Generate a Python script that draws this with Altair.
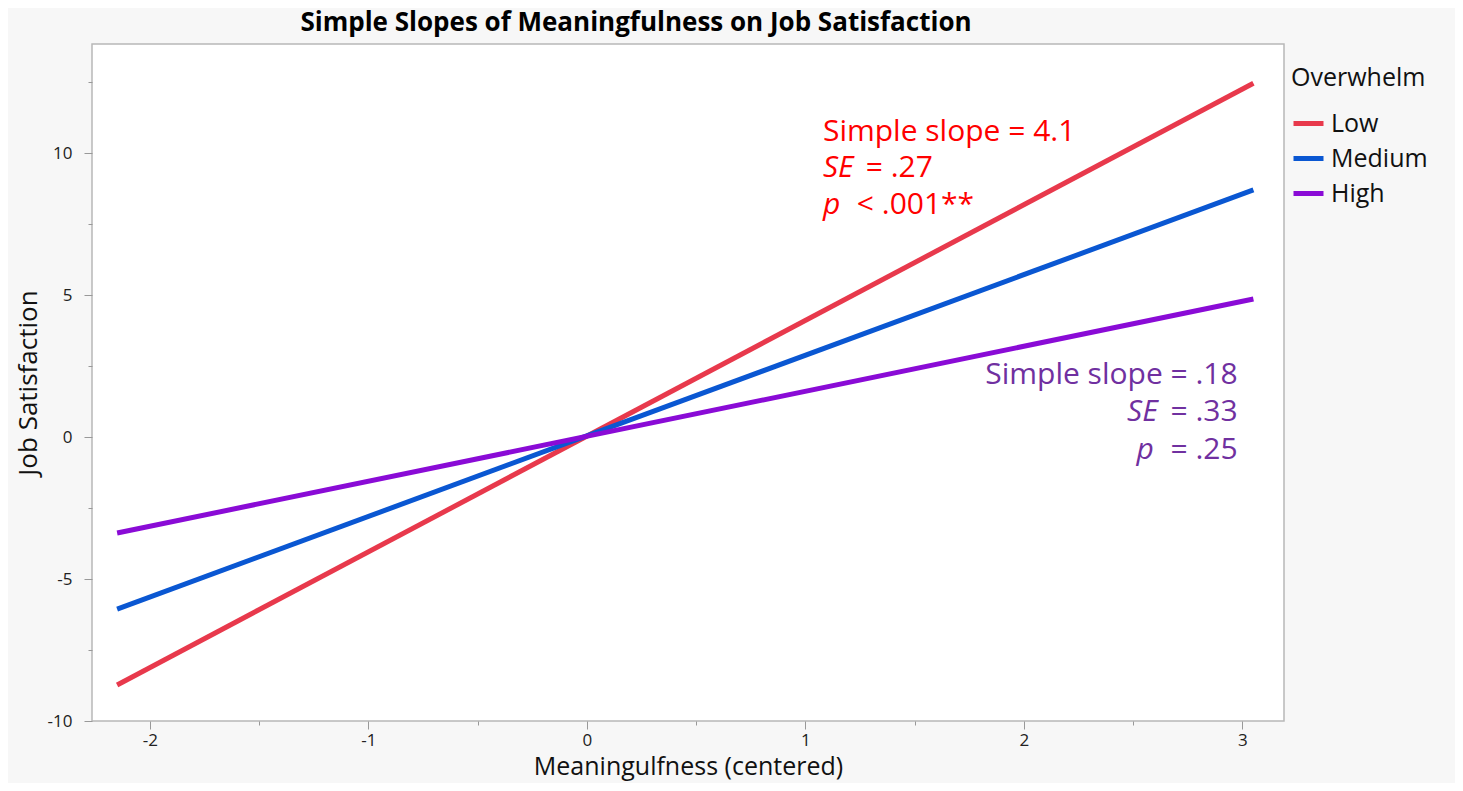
import altair as alt
import pandas as pd

# Lines (endpoints)
groups = ["Low", "Medium", "High"]
x_start = [-2.15, -2.15, -2.15]
x_end = [3.05, 3.05, 3.05]
y_start = [-8.73, -6.06, -3.38]
y_end = [12.46, 8.70, 4.86]
line_colors = ["#E8394C", "#0A57D2", "#8A0BD6"]

# Annotation pieces
red_normal_text = ["Simple slope = 4.1", "= .27", "< .001**"]
red_normal_x = [1.080, 1.276, 1.235]
red_normal_y = [10.74, 9.47, 8.17]
red_italic_text = ["SE", "p"]
red_italic_x = [1.080, 1.080]
red_italic_y = [9.47, 8.17]

pur_normal_text = ["Simple slope = .18", "= .33", "= .25"]
pur_normal_x = [2.978, 2.978, 2.978]
pur_normal_y = [2.18, 0.88, -0.46]
pur_italic_text = ["SE", "p"]
pur_italic_x = [2.612, 2.594]
pur_italic_y = [0.88, -0.46]

x_ticks = [-2, -1.5, -1, -0.5, 0, 0.5, 1, 1.5, 2, 2.5, 3]
y_ticks = [-10, -7.5, -5, -2.5, 0, 2.5, 5, 7.5, 10, 12.5]

FONT = "Open Sans"

rows = []
for g, xs, xe, ys, ye in zip(groups, x_start, x_end, y_start, y_end):
    rows.append({"Overwhelm": g, "x": xs, "y": ys, "o": 0})
    rows.append({"Overwhelm": g, "x": xe, "y": ye, "o": 1})
df = pd.DataFrame(rows)

xscale = alt.Scale(domain=[-2.265, 3.19], nice=False, zero=False)
yscale = alt.Scale(domain=[-10, 13.84], nice=False, zero=False)

xaxis = alt.Axis(
    title="Meaningulfness (centered)",
    values=x_ticks,
    labelExpr="datum.value % 1 === 0 ? '' + datum.value : ''",
    tickSize={"condition": {"test": "datum.value % 1 === 0", "value": 8}, "value": 4},
    grid=False, domain=False, tickColor="#999999",
    labelFont=FONT, labelFontSize=17, labelColor="#222222", labelPadding=3,
    titleFont=FONT, titleFontSize=25, titleFontWeight="normal", titleColor="#111111",
    titlePadding=6,
)
yaxis = alt.Axis(
    title="Job Satisfaction",
    values=y_ticks,
    labelExpr="datum.value % 5 === 0 ? '' + datum.value : ''",
    tickSize={"condition": {"test": "datum.value % 5 === 0", "value": 8}, "value": 4},
    grid=False, domain=False, tickColor="#999999",
    labelFont=FONT, labelFontSize=17, labelColor="#222222", labelPadding=12,
    titleFont=FONT, titleFontSize=26, titleFontWeight="normal", titleColor="#111111",
    titlePadding=6,
)

lines = alt.Chart(df).mark_line(strokeWidth=5, strokeCap="butt").encode(
    x=alt.X("x:Q", scale=xscale, axis=xaxis),
    y=alt.Y("y:Q", scale=yscale, axis=yaxis),
    color=alt.Color(
        "Overwhelm:N",
        scale=alt.Scale(domain=groups, range=line_colors),
        sort=groups,
        legend=alt.Legend(
            orient="none", legendX=1199, legendY=22,
            symbolType="stroke", symbolSize=900, symbolStrokeWidth=5,
            titleFont=FONT, titleFontSize=25, titleFontWeight="normal", titleColor="#111111",
            labelFont=FONT, labelFontSize=25, labelColor="#111111",
            labelOffset=5, rowPadding=4, titlePadding=15, padding=0,
        ),
    ),
    order="o:Q",
)

def text_layer(xs, ys, texts, color, align, italic):
    d = pd.DataFrame({"x": xs, "y": ys, "t": texts})
    return alt.Chart(d).mark_text(
        font=FONT, fontSize=30, color=color, align=align, baseline="middle",
        fontStyle="italic" if italic else "normal",
    ).encode(
        x=alt.X("x:Q", scale=xscale),
        y=alt.Y("y:Q", scale=yscale),
        text="t:N",
    )

ann = [
    text_layer(red_normal_x, red_normal_y, red_normal_text, "#FF0000", "left", False),
    text_layer(red_italic_x, red_italic_y, red_italic_text, "#FF0000", "left", True),
    text_layer(pur_normal_x, pur_normal_y, pur_normal_text, "#7030A0", "right", False),
    text_layer(pur_italic_x, pur_italic_y, pur_italic_text, "#7030A0", "right", True),
]

chart = alt.layer(lines, *ann).properties(
    width=1192, height=677,
    autosize=alt.AutoSizeParams(type="none"),
    padding={"left": 84, "top": 36, "right": 171, "bottom": 62},
    background="#F7F7F7",
    title=alt.TitleParams(
        "Simple Slopes of Meaningfulness on Job Satisfaction",
        font=FONT, fontSize=26, fontWeight="bold", color="#000000",
        anchor="middle", frame="group", dx=-52, offset=-13, baseline="alphabetic",
    ),
).configure_view(fill="white", stroke="#B8B8B8", strokeWidth=1.5)

chart.save("out.html", embed_options={"renderer": "svg", "actions": False})
